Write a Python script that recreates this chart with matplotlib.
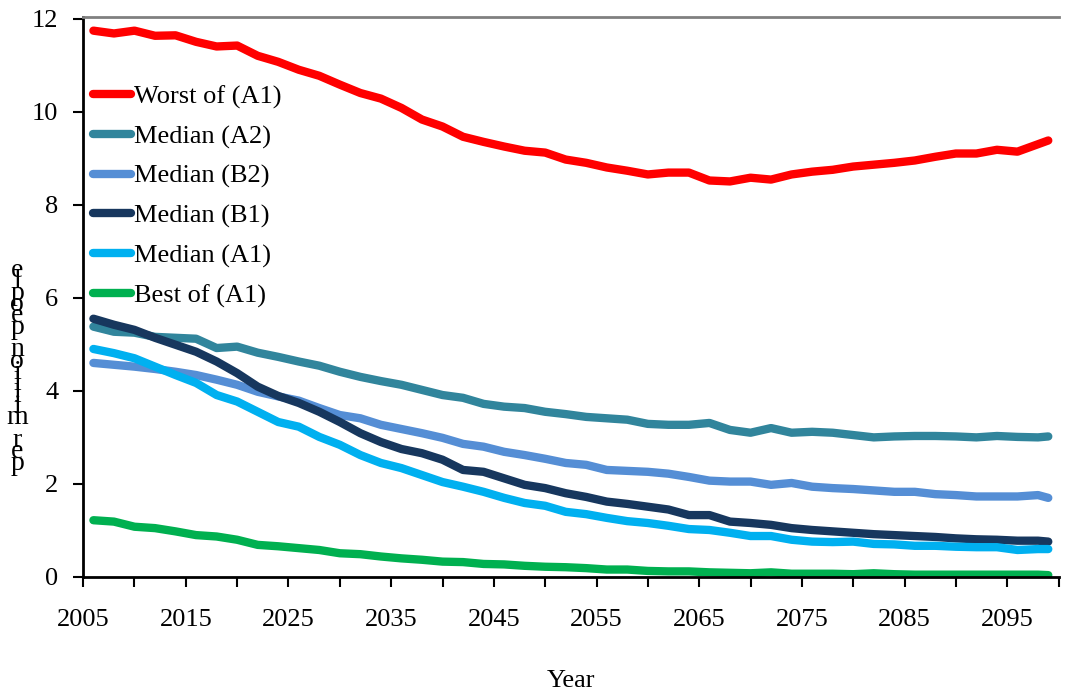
import matplotlib.pyplot as plt

years = list(range(2006, 2100, 2)) + [2099]

worst_a1 = [11.74, 11.68, 11.74, 11.63, 11.64, 11.50, 11.40, 11.42, 11.20, 11.07,
            10.90, 10.77, 10.58, 10.40, 10.28, 10.08, 9.83, 9.68, 9.46, 9.35,
            9.25, 9.16, 9.12, 8.97, 8.90, 8.80, 8.73, 8.65, 8.69, 8.69,
            8.52, 8.50, 8.58, 8.54, 8.65, 8.71, 8.75, 8.82, 8.86, 8.90,
            8.95, 9.03, 9.10, 9.10, 9.18, 9.14, 9.30, 9.38]
median_a2 = [5.38, 5.27, 5.25, 5.16, 5.14, 5.12, 4.92, 4.95, 4.82, 4.73,
             4.63, 4.54, 4.41, 4.30, 4.21, 4.13, 4.02, 3.91, 3.85, 3.72,
             3.66, 3.63, 3.55, 3.50, 3.44, 3.41, 3.38, 3.29, 3.27, 3.27,
             3.31, 3.16, 3.10, 3.20, 3.10, 3.12, 3.10, 3.05, 3.00, 3.02,
             3.03, 3.03, 3.02, 3.00, 3.03, 3.01, 3.00, 3.02]
median_b2 = [4.60, 4.56, 4.52, 4.47, 4.41, 4.34, 4.24, 4.13, 3.98, 3.88,
             3.79, 3.63, 3.48, 3.41, 3.27, 3.18, 3.09, 2.99, 2.86, 2.80,
             2.69, 2.62, 2.54, 2.45, 2.41, 2.30, 2.28, 2.26, 2.22, 2.15,
             2.07, 2.05, 2.05, 1.98, 2.02, 1.94, 1.91, 1.89, 1.86, 1.83,
             1.83, 1.78, 1.76, 1.73, 1.73, 1.73, 1.76, 1.70]
median_b1 = [5.55, 5.42, 5.31, 5.14, 4.99, 4.84, 4.63, 4.38, 4.09, 3.89,
             3.74, 3.55, 3.33, 3.09, 2.90, 2.75, 2.66, 2.52, 2.30, 2.26,
             2.12, 1.98, 1.91, 1.80, 1.72, 1.62, 1.57, 1.51, 1.45, 1.33,
             1.33, 1.19, 1.16, 1.12, 1.05, 1.01, 0.98, 0.95, 0.92, 0.90,
             0.88, 0.86, 0.83, 0.81, 0.80, 0.78, 0.78, 0.76]
median_a1 = [4.90, 4.81, 4.70, 4.52, 4.34, 4.17, 3.91, 3.77, 3.55, 3.33,
             3.23, 3.01, 2.84, 2.62, 2.45, 2.34, 2.19, 2.04, 1.94, 1.83,
             1.70, 1.59, 1.53, 1.40, 1.35, 1.27, 1.20, 1.16, 1.10, 1.03,
             1.01, 0.95, 0.88, 0.88, 0.80, 0.76, 0.75, 0.76, 0.71, 0.70,
             0.67, 0.67, 0.65, 0.64, 0.64, 0.58, 0.60, 0.60]
best_a1 = [1.22, 1.19, 1.08, 1.05, 0.98, 0.90, 0.87, 0.80, 0.69, 0.66,
           0.62, 0.58, 0.51, 0.49, 0.44, 0.40, 0.37, 0.33, 0.32, 0.28,
           0.27, 0.24, 0.22, 0.21, 0.19, 0.16, 0.16, 0.13, 0.12, 0.12,
           0.10, 0.09, 0.08, 0.10, 0.07, 0.07, 0.07, 0.06, 0.08, 0.06,
           0.05, 0.05, 0.05, 0.05, 0.05, 0.05, 0.05, 0.04]

series = [
    ("Worst of (A1)", worst_a1, "#FF0000"),
    ("Median (A2)", median_a2, "#31859C"),
    ("Median (B2)", median_b2, "#558ED5"),
    ("Median (B1)", median_b1, "#17375E"),
    ("Median (A1)", median_a1, "#00B0F0"),
    ("Best of (A1)", best_a1, "#00B050"),
]

plt.rcParams['font.family'] = ['Liberation Serif', 'DejaVu Serif']

fig = plt.figure(figsize=(10.66, 6.96), dpi=100)
ax = fig.add_axes([0.078, 0.171, 0.915, 0.805])

for name, vals, col in series:
    ax.plot(years, vals, color=col, lw=6, label=name, solid_capstyle='round')

ax.set_xlim(2005, 2100)
ax.set_ylim(0, 12.04)
ax.set_xticks(range(2005, 2100, 10))
ax.set_xticks(range(2010, 2101, 10), minor=True)
ax.set_yticks(range(0, 13, 2))
ax.tick_params(axis='both', which='both', direction='out', length=7, width=1.5,
               labelsize=19, pad=11, color='black')
ax.tick_params(axis='x', which='both', pad=16)

for s in ['left', 'bottom']:
    ax.spines[s].set_linewidth(2)
    ax.spines[s].set_color('black')
ax.spines['top'].set_color('#808080')
ax.spines['top'].set_linewidth(2)
ax.spines['right'].set_visible(False)

ax.set_xlabel("Year", fontsize=19, labelpad=28)

# vertical stacked y label, as in the source
ylab = "per million people"[::-1]
fig.text(0.016, 0.473, "\n".join(ylab), fontsize=20, ha='center', va='center',
         linespacing=0.28)

leg = ax.legend(loc='upper left', bbox_to_anchor=(-0.009, 0.911), frameon=False,
                fontsize=19, handlelength=1.45, handletextpad=0.1,
                labelspacing=0.6, borderaxespad=0.3)

fig.savefig("out.png", dpi=100)
